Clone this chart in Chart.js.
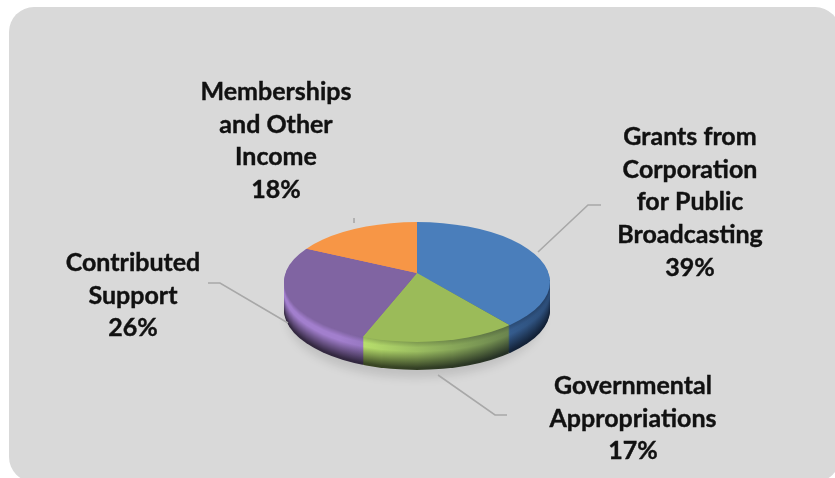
<!DOCTYPE html>
<html>
<head>
<meta charset="utf-8">
<style>
  html, body { margin: 0; padding: 0; background: #fff; overflow: hidden; }
  #wrap { position: relative; width: 835px; height: 478px; overflow: hidden; }
  #card { position: absolute; left: 9px; top: 7px; width: 831px; height: 475px; background: #d9d9d9; border-radius: 25px; }
  #pie { position: absolute; left: 0; top: 0; }
</style>
</head>
<body>
<div id="wrap">
  <div id="card"></div>
  <canvas id="pie" width="835" height="478"></canvas>
</div>
<script src="https://cdn.jsdelivr.net/npm/chart.js@4"></script>
<script>
// DATA
const categories = [
    ['Grants from', 'Corporation', 'for Public', 'Broadcasting'],
    ['Governmental', 'Appropriations'],
    ['Contributed', 'Support'],
    ['Memberships', 'and Other', 'Income']
];
const shares = [39, 17, 26, 18];
const sliceColors = ['#4a7ebb', '#9bbb59', '#8064a2', '#f79646'];

// LAYOUT OF THE TILTED PIE
const APEX = { x: 417, y: 273 };       // where the slices meet
const RIM = { x: 417, y: 282, rx: 133, ry: 60 };  // outline of the top face
const TILT = { rx: 133, ry: 62, grow: 1.3 };
const DEPTH = 28;

// LABEL BLOCKS (centre x, first baseline) and leader lines
const labelSpots = [
    { x: 690, y: 145 },
    { x: 633, y: 394 },
    { x: 133, y: 271 },
    { x: 276, y: 100 }
];
const LINE_H = 32.7;
const leaders = [
    [[538, 252], [588, 205], [601, 205]],
    [[438, 375], [495, 415], [507, 415]],
    [[288, 323], [220, 283], [208, 283]],
    [[354, 218], [354, 223]]
];

// brightness of the side wall, going down from the rim
function wallShade(d) {
    if (d < 6) return 1 + d * 0.045;
    if (d < 10) return 1.27;
    return Math.max(0.4, 1.27 - (d - 10) * 0.052);
}

function drawLayer(chart, ctx, dy) {
    const arcs = chart.getDatasetMeta(0).data;
    const R = arcs[0].outerRadius;
    ctx.save();
    ctx.beginPath();
    ctx.ellipse(RIM.x, RIM.y + dy, RIM.rx, RIM.ry, 0, 0, Math.PI * 2);
    ctx.clip();
    ctx.translate(APEX.x, APEX.y + dy);
    ctx.scale(TILT.rx * TILT.grow / R, TILT.ry * TILT.grow / R);
    ctx.translate(-arcs[0].x, -arcs[0].y);
    arcs.forEach(a => a.draw(ctx));
    ctx.restore();
}

const tiltedPie = {
    id: 'tiltedPie',
    beforeDatasetsDraw(chart) {
        const ctx = chart.ctx;
        // side wall, bottom layer first
        for (let d = DEPTH; d > 0; d--) {
            ctx.filter = 'brightness(' + wallShade(d) + ')';
            drawLayer(chart, ctx, d);
        }
        ctx.filter = 'none';

        // wall gets darker towards the right
        ctx.save();
        ctx.globalCompositeOperation = 'source-atop';
        const g = ctx.createLinearGradient(340, 0, 550, 0);
        g.addColorStop(0, 'rgba(10,20,40,0)');
        g.addColorStop(1, 'rgba(10,20,40,0.6)');
        ctx.fillStyle = g;
        ctx.fillRect(280, 280, 280, 100);
        ctx.restore();

        drawLayer(chart, ctx, 0);

        // soft shadow on the card
        ctx.save();
        ctx.globalCompositeOperation = 'destination-over';
        ctx.filter = 'blur(4px)';
        ctx.fillStyle = 'rgba(0,0,0,0.11)';
        ctx.beginPath();
        ctx.ellipse(415, 318, 128, 60, 0, 0, Math.PI * 2);
        ctx.fill();
        ctx.restore();
        return false;
    },
    afterDraw(chart) {
        const ctx = chart.ctx;
        ctx.save();
        ctx.strokeStyle = '#a8a8a8';
        ctx.lineWidth = 1.6;
        leaders.forEach(pts => {
            ctx.beginPath();
            pts.forEach((p, i) => i ? ctx.lineTo(p[0], p[1]) : ctx.moveTo(p[0], p[1]));
            ctx.stroke();
        });
        ctx.fillStyle = '#111';
        ctx.strokeStyle = '#111';
        ctx.lineWidth = 0.4;
        ctx.textAlign = 'center';
        ctx.font = 'bold 25px Lato';
        categories.forEach((lines, i) => {
            const spot = labelSpots[i];
            lines.concat(shares[i] + '%').forEach((t, n) => {
                ctx.fillText(t, spot.x, spot.y + n * LINE_H);
                ctx.strokeText(t, spot.x, spot.y + n * LINE_H);
            });
        });
        ctx.restore();
    }
};

new Chart(document.getElementById('pie').getContext('2d'), {
    type: 'pie',
    data: {
        labels: categories,
        datasets: [{
            data: shares,
            backgroundColor: sliceColors,
            borderWidth: 0
        }]
    },
    options: {
        responsive: false,
        animation: false,
        devicePixelRatio: 1,
        plugins: {
            legend: { display: false },
            tooltip: { enabled: false }
        }
    },
    plugins: [tiltedPie]
});
</script>
</body>
</html>
